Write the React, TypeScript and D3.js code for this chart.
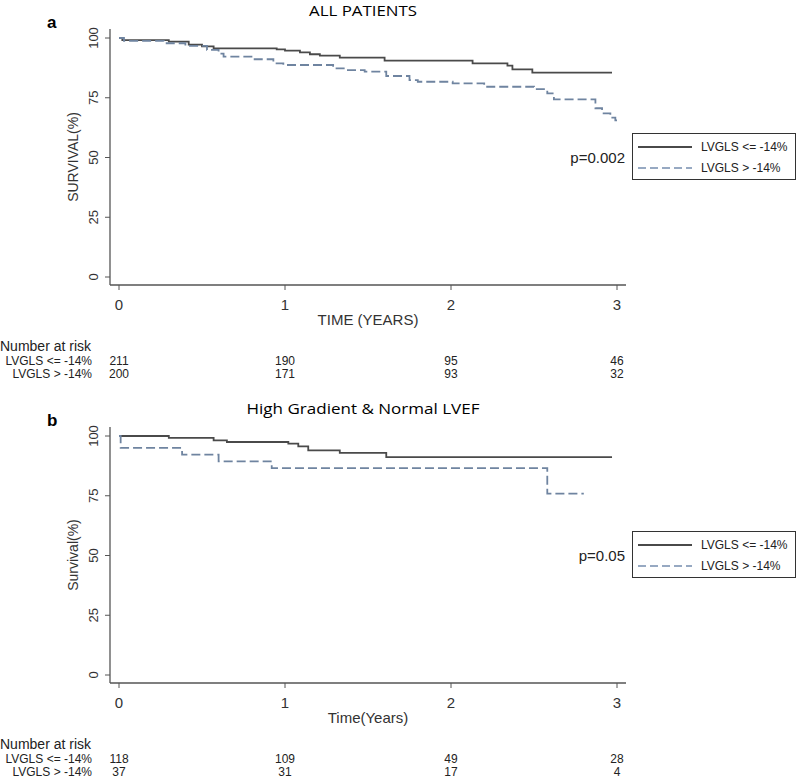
import React from 'react';
import * as d3 from 'd3';

// time ticks (years) and survival ticks (%)
const years = [0, 1, 2, 3];
const survTicks = [0, 25, 50, 75, 100];
const groups = ['LVGLS <= -14%', 'LVGLS > -14%'];

// panel a: all patients, [time, survival%] step points
const allGood: [number, number][] = [
  [0, 100], [0.02, 99.1], [0.3, 98.5], [0.42, 97.2], [0.5, 96.5], [0.57, 95.7],
  [0.95, 95.2], [1.0, 94.7], [1.09, 94.0], [1.15, 93.2], [1.21, 92.6], [1.33, 91.8],
  [1.6, 90.5], [2.13, 89.4], [2.34, 88.4], [2.37, 86.9], [2.49, 85.5], [2.97, 85.5],
];
const allPoor: [number, number][] = [
  [0, 100], [0.03, 98.8], [0.27, 97.8], [0.4, 96.7], [0.53, 95.0], [0.6, 93.5],
  [0.63, 92.2], [0.81, 91.1], [0.93, 89.4], [0.99, 88.7], [1.29, 87.3], [1.36, 86.6],
  [1.48, 85.9], [1.61, 84.1], [1.75, 82.4], [1.8, 81.7], [2.01, 81.0], [2.2, 79.6],
  [2.5, 78.6], [2.58, 76.8], [2.62, 74.3], [2.87, 70.6], [2.91, 68.5], [2.96, 66.7],
  [2.99, 65.5], [3.0, 65.5],
];
const allRiskGood = [211, 190, 95, 46];
const allRiskPoor = [200, 171, 93, 32];

// panel b: high gradient & normal LVEF
const hgGood: [number, number][] = [
  [0, 100], [0.3, 99.2], [0.57, 98.2], [0.65, 97.5], [1.02, 96.8], [1.08, 95.7],
  [1.14, 94.0], [1.33, 92.9], [1.61, 91.2], [2.97, 91.2],
];
const hgPoor: [number, number][] = [
  [0, 100], [0.01, 95.0], [0.38, 92.2], [0.6, 89.4], [0.92, 86.6], [2.58, 75.9], [2.8, 75.9],
];
const hgRiskGood = [118, 109, 49, 28];
const hgRiskPoor = [37, 31, 17, 4];

const AXIS = '#555';
const SOLID = '#4a4a4a';
const DASH = '#6f84a0';
const LEG_DASH = '#97a9c2';
const FONT = '"Liberation Sans", Arial, sans-serif';
const TITLE_FONT = '"Open Sans", Lato, sans-serif';

interface PanelProps {
  top: number;
  letter: string;
  title: string;
  titleWidth: number;
  yLabel: string;
  xLabel: string;
  pValue: string;
  good: [number, number][];
  poor: [number, number][];
  riskGood: number[];
  riskPoor: number[];
}

function Panel({ top, letter, title, titleWidth, yLabel, xLabel, pValue, good, poor, riskGood, riskPoor }: PanelProps) {
  const x = d3.scaleLinear().domain([0, 3]).range([119, 617]);
  const y = d3.scaleLinear().domain([0, 100]).range([top + 277, top + 38]);
  const line = d3.line<[number, number]>()
    .x(d => x(d[0]))
    .y(d => y(d[1]))
    .curve(d3.curveStepAfter);
  const axisY = top + 285;
  const axisX = 110;

  return (
    <g>
      <text x={47} y={top + 28} fontFamily={FONT} fontWeight="bold" fontSize={17}>{letter}</text>
      <text x={363} y={top + 16} textAnchor="middle" fontFamily={TITLE_FONT} fontSize={14.5}
        textLength={titleWidth} lengthAdjust="spacingAndGlyphs">{title}</text>

      {/* axes */}
      <line x1={axisX} x2={axisX} y1={top + 29} y2={axisY} stroke={AXIS} strokeWidth={1.3} />
      <line x1={axisX} x2={626} y1={axisY} y2={axisY} stroke={AXIS} strokeWidth={1.3} />
      {survTicks.map(t => (
        <g key={'y' + t}>
          <line x1={axisX - 5} x2={axisX} y1={y(t)} y2={y(t)} stroke={AXIS} strokeWidth={1} />
          <text transform={`translate(98, ${y(t)}) rotate(-90)`} textAnchor="middle"
            fontFamily={FONT} fontSize={13} fill="#333">{t}</text>
        </g>
      ))}
      {years.map(t => (
        <g key={'x' + t}>
          <line x1={x(t)} x2={x(t)} y1={axisY} y2={axisY + 5} stroke={AXIS} strokeWidth={1} />
          <text x={x(t)} y={top + 310} textAnchor="middle" fontFamily={FONT} fontSize={15} fill="#333">{t}</text>
        </g>
      ))}
      <text transform={`translate(78, ${top + 157}) rotate(-90)`} textAnchor="middle"
        fontFamily={FONT} fontSize={14} fill="#333">{yLabel}</text>
      <text x={368} y={top + 325} textAnchor="middle" fontFamily={FONT} fontSize={15} fill="#333">{xLabel}</text>

      {/* curves */}
      <path d={line(good) || ''} fill="none" stroke={SOLID} strokeWidth={1.8} />
      <path d={line(poor) || ''} fill="none" stroke={DASH} strokeWidth={1.8} strokeDasharray="9 4" />

      {/* p value + legend */}
      <text x={625} y={top + 163} textAnchor="end" fontFamily={FONT} fontSize={15} fill="#222">{pValue}</text>
      <rect x={632.5} y={top + 133.5} width={163} height={46} fill="white" stroke="#333" strokeWidth={1} />
      <line x1={638} x2={692} y1={top + 147} y2={top + 147} stroke={SOLID} strokeWidth={1.8} />
      <line x1={638} x2={692} y1={top + 168} y2={top + 168} stroke={LEG_DASH} strokeWidth={1.8} strokeDasharray="8 4" />
      <text x={701} y={top + 151} fontFamily={FONT} fontSize={12} fill="#222">{groups[0]}</text>
      <text x={701} y={top + 172} fontFamily={FONT} fontSize={12} fill="#222">{groups[1]}</text>

      {/* number at risk */}
      <text x={0} y={top + 351} fontFamily={FONT} fontSize={14} fill="#222">Number at risk</text>
      <text x={92} y={top + 365} textAnchor="end" fontFamily={FONT} fontSize={12} fill="#222">{groups[0]}</text>
      <text x={92} y={top + 378} textAnchor="end" fontFamily={FONT} fontSize={12} fill="#222">{groups[1]}</text>
      {years.map((t, i) => (
        <g key={'r' + t}>
          <text x={x(t)} y={top + 365} textAnchor="middle" fontFamily={FONT} fontSize={12} fill="#222">{riskGood[i]}</text>
          <text x={x(t)} y={top + 378} textAnchor="middle" fontFamily={FONT} fontSize={12} fill="#222">{riskPoor[i]}</text>
        </g>
      ))}
    </g>
  );
}

export default function App() {
  return (
    <svg width={797} height={780} style={{ position: 'absolute', left: 0, top: 0, background: 'white' }}>
      <rect width={797} height={780} fill="white" />
      <Panel top={0} letter="a" title="ALL PATIENTS" titleWidth={108} yLabel="SURVIVAL(%)" xLabel="TIME (YEARS)"
        pValue="p=0.002" good={allGood} poor={allPoor} riskGood={allRiskGood} riskPoor={allRiskPoor} />
      <Panel top={398} letter="b" title="High Gradient & Normal LVEF" titleWidth={233} yLabel="Survival(%)" xLabel="Time(Years)"
        pValue="p=0.05" good={hgGood} poor={hgPoor} riskGood={hgRiskGood} riskPoor={hgRiskPoor} />
    </svg>
  );
}
